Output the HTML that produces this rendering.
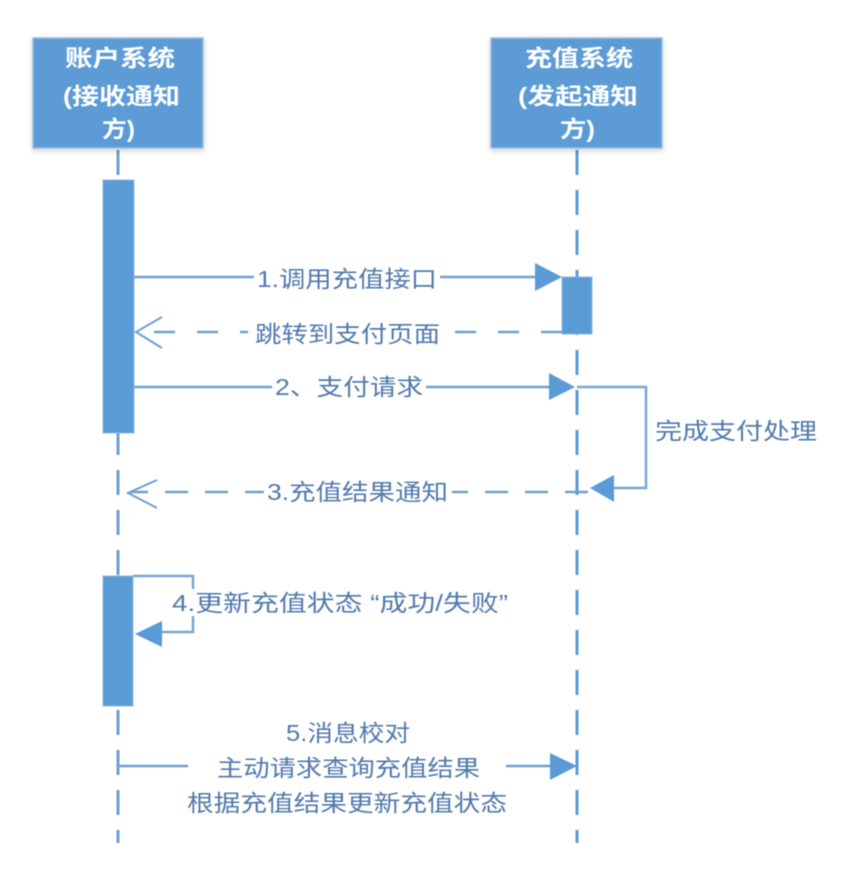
<!DOCTYPE html>
<html>
<head>
<meta charset="utf-8">
<style>
  html,body{margin:0;padding:0;background:#ffffff;}
  svg{display:block;filter:blur(0.4px);}
  .lbl{font-family:"Liberation Sans","Noto Sans CJK SC",sans-serif;font-size:23px;fill:#5079ac;}
  .box{font-family:"Liberation Sans","Noto Sans CJK SC",sans-serif;font-size:23px;font-weight:bold;fill:#ffffff;}
</style>
</head>
<body>
<svg width="857" height="884" viewBox="0 0 857 884" xmlns="http://www.w3.org/2000/svg">
  <defs>
    <filter id="sh" x="-10%" y="-10%" width="120%" height="130%">
      <feDropShadow dx="0" dy="2" stdDeviation="3" flood-color="#000" flood-opacity="0.18"/>
    </filter>
  </defs>
  <rect width="857" height="884" fill="#ffffff"/>

  <!-- lifelines -->
  <line x1="118" y1="150" x2="118" y2="843" stroke="#6d9fd2" stroke-width="3" stroke-dasharray="25 15"/>
  <line x1="577" y1="150" x2="577" y2="843" stroke="#5b9bd5" stroke-width="3" stroke-dasharray="25 15"/>

  <!-- boxes -->
  <rect x="33" y="38" width="170" height="110" fill="#5b9bd5" stroke="#9dbde0" stroke-width="1.5" filter="url(#sh)"/>
  <rect x="491" y="38" width="171" height="110" fill="#5b9bd5" stroke="#9dbde0" stroke-width="1.5" filter="url(#sh)"/>
  <text class="box" x="65" y="66" textLength="110" lengthAdjust="spacingAndGlyphs">账户系统</text>
  <text class="box" x="63" y="104" textLength="117" lengthAdjust="spacingAndGlyphs">(接收通知</text>
  <text class="box" x="102" y="137" textLength="33" lengthAdjust="spacingAndGlyphs">方)</text>
  <text class="box" x="525" y="66" textLength="108" lengthAdjust="spacingAndGlyphs">充值系统</text>
  <text class="box" x="518" y="104" textLength="120" lengthAdjust="spacingAndGlyphs">(发起通知</text>
  <text class="box" x="560" y="137" textLength="35" lengthAdjust="spacingAndGlyphs">方)</text>

  <!-- activation bars -->
  <rect x="103" y="180" width="31" height="253" fill="#5b9bd5" stroke="#8db6e0" stroke-width="1"/>
  <rect x="562" y="277" width="30" height="57" fill="#5b9bd5" stroke="#8db6e0" stroke-width="1"/>
  <rect x="103" y="576" width="30" height="130" fill="#5b9bd5" stroke="#8db6e0" stroke-width="1"/>

  <!-- arrow 1 -->
  <line x1="134" y1="277" x2="540" y2="277" stroke="#6d9fd2" stroke-width="2.5"/>
  <polygon points="562,277 535,263 535,291" fill="#5b9bd5"/>
  <rect x="254" y="264" width="186" height="28" fill="#ffffff"/>
  <text class="lbl" x="257" y="287" textLength="180" lengthAdjust="spacingAndGlyphs">1.调用充值接口</text>

  <!-- return dashed -->
  <line x1="562" y1="332" x2="138" y2="332" stroke="#6d9fd2" stroke-width="2.5" stroke-dasharray="21 22"/>
  <polyline points="162,317 136,332 162,348" fill="none" stroke="#6d9fd2" stroke-width="2"/>
  <rect x="248" y="318" width="198" height="30" fill="#ffffff"/>
  <text class="lbl" x="255" y="342" textLength="185" lengthAdjust="spacingAndGlyphs">跳转到支付页面</text>

  <!-- arrow 2 -->
  <line x1="134" y1="387" x2="552" y2="387" stroke="#6d9fd2" stroke-width="2.5"/>
  <polygon points="575,387 549,373 549,400" fill="#5b9bd5"/>
  <rect x="272" y="373" width="154" height="28" fill="#ffffff"/>
  <text class="lbl" x="275" y="395" textLength="148" lengthAdjust="spacingAndGlyphs">2、支付请求</text>

  <!-- self loop right -->
  <polyline points="577,387 646,387 646,488 610,488" fill="none" stroke="#7aa5d3" stroke-width="2.5"/>
  <polygon points="590,488 614,475 614,502" fill="#5b9bd5"/>
  <text class="lbl" x="655" y="439" textLength="162" lengthAdjust="spacingAndGlyphs">完成支付处理</text>

  <!-- arrow 3 dashed -->
  <line x1="588" y1="492" x2="130" y2="492" stroke="#6d9fd2" stroke-width="2.5" stroke-dasharray="23 17"/>
  <polyline points="157,480 128,493 157,508" fill="none" stroke="#6d9fd2" stroke-width="2"/>
  <rect x="264" y="478" width="188" height="28" fill="#ffffff"/>
  <text class="lbl" x="267" y="500" textLength="181" lengthAdjust="spacingAndGlyphs">3.充值结果通知</text>

  <!-- self loop left (4) -->
  <polyline points="133,576 193,576 193,632 158,632" fill="none" stroke="#7aa5d3" stroke-width="2.5"/>
  <polygon points="135,634 162,621 162,647" fill="#5b9bd5"/>
  <rect x="170" y="589" width="342" height="27" fill="#ffffff"/>
  <text class="lbl" x="172" y="611" textLength="336" lengthAdjust="spacingAndGlyphs">4.更新充值状态 “成功/失败”</text>

  <!-- arrow 5 -->
  <line x1="118" y1="766" x2="553" y2="766" stroke="#6d9fd2" stroke-width="2.5"/>
  <polygon points="577,766 550,753 550,780" fill="#5b9bd5"/>
  <rect x="188" y="752" width="318" height="28" fill="#ffffff"/>
  <text class="lbl" x="286" y="741" textLength="124" lengthAdjust="spacingAndGlyphs">5.消息校对</text>
  <text class="lbl" x="217" y="776" textLength="263" lengthAdjust="spacingAndGlyphs">主动请求查询充值结果</text>
  <text class="lbl" x="187" y="811" textLength="320" lengthAdjust="spacingAndGlyphs">根据充值结果更新充值状态</text>
</svg>
</body>
</html>
